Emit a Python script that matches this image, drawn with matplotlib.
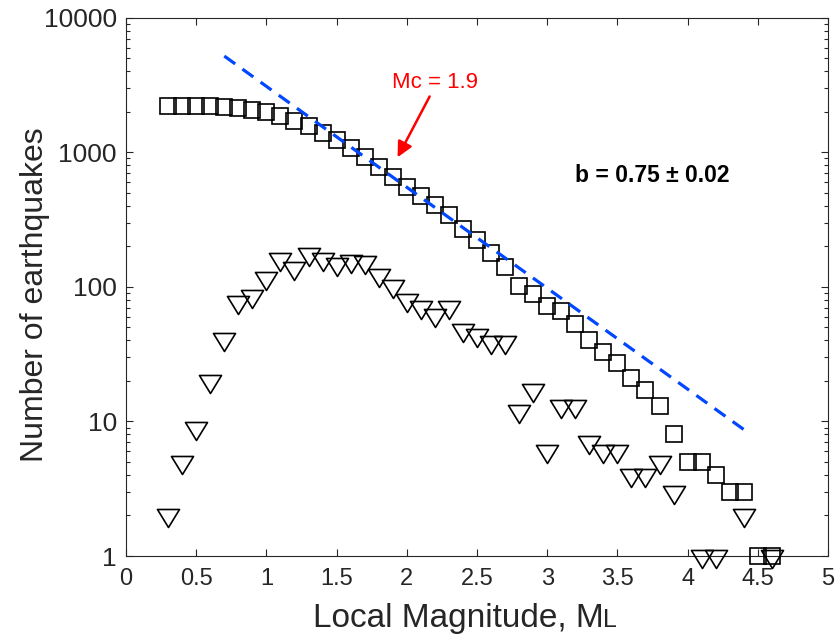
import numpy as np
import matplotlib
matplotlib.use("Agg")
import matplotlib.pyplot as plt
from matplotlib.path import Path
from matplotlib.ticker import LogLocator, NullFormatter, NullLocator

plt.rcParams['font.family'] = ['Liberation Sans', 'DejaVu Sans']

# magnitude bins, 0.1 wide
mag = [0.3, 0.4, 0.5, 0.6, 0.7, 0.8, 0.9, 1.0, 1.1, 1.2,
       1.3, 1.4, 1.5, 1.6, 1.7, 1.8, 1.9, 2.0, 2.1, 2.2,
       2.3, 2.4, 2.5, 2.6, 2.7, 2.8, 2.9, 3.0, 3.1, 3.2,
       3.3, 3.4, 3.5, 3.6, 3.7, 3.8, 3.9, 4.0, 4.1, 4.2,
       4.3, 4.4, 4.5, 4.6]

# cumulative number of events with M >= mag
n_cum = [2223, 2221, 2216, 2207, 2187, 2146, 2069, 1984, 1868, 1708,
         1570, 1396, 1234, 1085, 930, 778, 656, 555, 475, 404,
         342, 271, 223, 179, 140, 101, 89, 72, 66, 53,
         40, 33, 27, 21, 17, 13, 8, 5, 5, 4,
         3, 3, 1, 1]

# number of events in each bin
n_inc = [2, 5, 9, 20, 41, 77, 85, 116, 160, 138,
         174, 162, 149, 155, 152, 122, 101, 80, 71, 62,
         71, 48, 44, 39, 39, 12, 17, 6, 13, 13,
         7, 6, 6, 4, 4, 5, 3, 0, 1, 1,
         0, 2, 0, 1]

# Gutenberg-Richter fit: log10 N = a - b M
a_value = 4.24
b_value = 0.75
b_err = 0.02
mc = 1.9
fit_range = [0.7, 4.4]

W, H = 840, 642
fig = plt.figure(figsize=(W / 100, H / 100), dpi=100)
ax = fig.add_axes([126 / W, 1 - 556 / H, 702 / W, (556 - 17.7) / H])

edge = '#262626'

# downward triangle with its centroid on the data point
tri = Path([(0, -12), (-11, 6), (11, 6), (0, -12)],
           [Path.MOVETO, Path.LINETO, Path.LINETO, Path.CLOSEPOLY])

ax.plot(mag, n_cum, ls='none', marker='s', ms=11.3, mfc='none', mec='k',
        mew=1.2, clip_on=False, zorder=3)

m_arr = np.array(mag)
inc_arr = np.array(n_inc)
keep = inc_arr > 0
ax.plot(m_arr[keep], inc_arr[keep], ls='none', marker=tri, ms=17.3,
        mfc='none', mec='k', mew=1.2, clip_on=False, zorder=3)

mfit = np.array(fit_range)
ax.plot(mfit, 10 ** (a_value - b_value * mfit), color='#0047ff', lw=2.3,
        ls=(0, (4.2, 2.8)), dash_capstyle='butt', zorder=4)

ax.set_yscale('log')
ax.set_xlim(0, 5)
ax.set_ylim(1, 1e4)
xt = np.arange(0, 5.01, 0.5)
ax.set_xticks(xt)
ax.set_xticklabels(['%g' % v for v in xt])
ax.set_yticks([1, 10, 100, 1000, 10000])
ax.set_yticklabels(['1', '10', '100', '1000', '10000'])
ax.yaxis.set_minor_locator(LogLocator(base=10, subs=range(2, 10)))
ax.yaxis.set_minor_formatter(NullFormatter())
ax.xaxis.set_minor_locator(NullLocator())

ax.tick_params(which='both', direction='in', top=True, right=True,
               color=edge, labelcolor=edge, width=0.8)
ax.tick_params(which='major', length=4.8)
ax.tick_params(axis='x', labelsize=17, pad=8.5)
ax.tick_params(axis='y', labelsize=19, pad=6.5)
ax.tick_params(which='minor', length=3.1)
for sp in ax.spines.values():
    sp.set_color(edge)
    sp.set_linewidth(0.8)

# Mc marker
ax.annotate('', xy=(1.925, 880), xytext=(2.172, 2710),
            arrowprops=dict(arrowstyle='-|>', color='red', lw=1.8,
                            mutation_scale=23))
ax.text(2.203, 2985, 'Mc = %.1f' % mc, color='red', fontsize=16,
        ha='center', va='baseline')

ax.text(3.751, 598, 'b = %.2f \u00b1 %.2f' % (b_value, b_err),
        fontsize=16.5, fontweight='bold', ha='center', va='baseline')

fig.text(35 / W, 1 - 295 / H, 'Number of earthquakes', fontsize=23,
         rotation=90, ha='center', va='center', color=edge)

# x label with a small-capital L after the M
yb = 1 - 627 / H
t1 = fig.text(0, yb, 'Local Magnitude, M', fontsize=24, ha='left',
              va='baseline', color=edge)
t2 = fig.text(0, yb, 'L', fontsize=18, ha='left', va='baseline', color=edge)
r = fig.canvas.get_renderer()
w1 = t1.get_window_extent(r).width
w2 = t2.get_window_extent(r).width
x0 = 465 - (w1 + w2) / 2
t1.set_x(x0 / W)
t2.set_x((x0 + w1) / W)

fig.savefig('out.png', dpi=100)
